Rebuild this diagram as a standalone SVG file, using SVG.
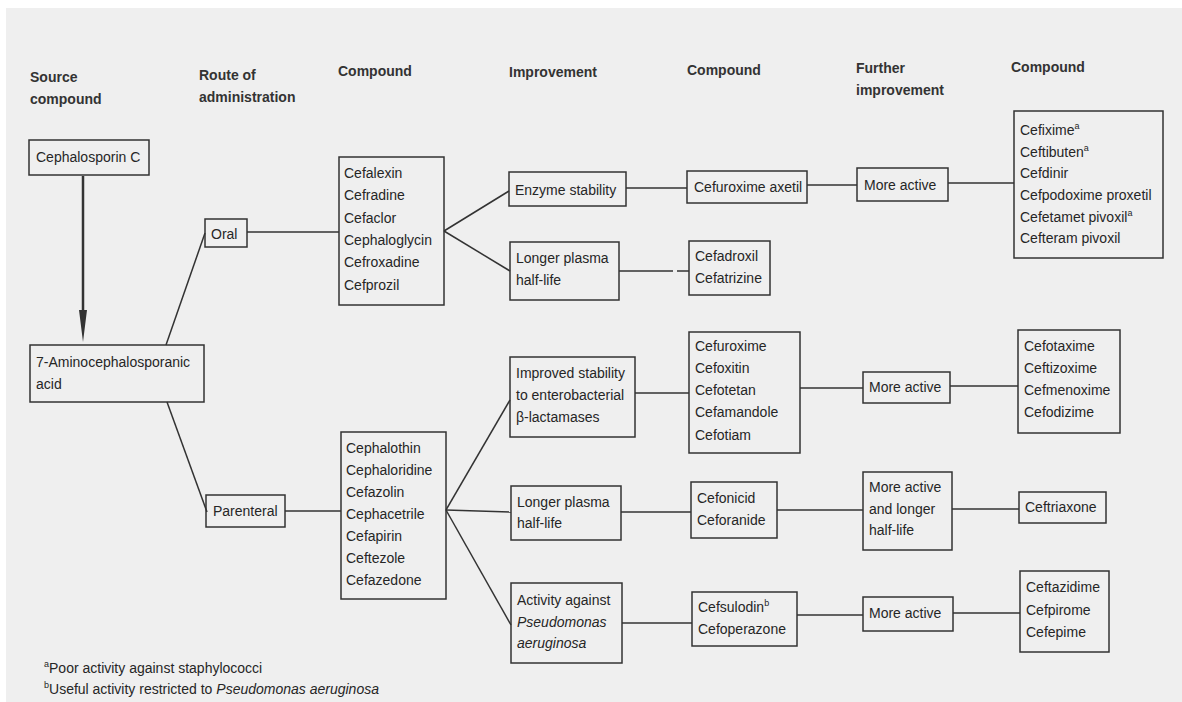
<svg xmlns="http://www.w3.org/2000/svg" width="1182" height="702" viewBox="0 0 1182 702">
<defs>
<style>
text{font-family:"Liberation Sans",Arial,sans-serif;font-size:14px;fill:#262626}
.h{font-weight:bold;fill:#333}
.b{fill:none;stroke:#333;stroke-width:1.5}
.c line,.c polyline{stroke:#333;stroke-width:1.5;fill:none}
.c line.thick{stroke-width:2.5}
.i{font-style:italic}
.sup{font-size:9px}
</style>
<marker id="arr" viewBox="0 0 32 8" refX="0" refY="4" markerWidth="32" markerHeight="8" orient="auto" markerUnits="userSpaceOnUse">
<path d="M0,0 L32,4 L0,8 Z" fill="#333"/>
</marker>
</defs>
<rect x="0" y="0" width="1182" height="702" fill="#ffffff"/>
<rect x="6" y="8" width="1176" height="694" fill="#efefef"/>

<g id="headers">
<text class="h" x="30" y="82">Source</text>
<text class="h" x="30" y="104">compound</text>
<text class="h" x="199" y="80">Route of</text>
<text class="h" x="199" y="102">administration</text>
<text class="h" x="338" y="76">Compound</text>
<text class="h" x="509" y="77">Improvement</text>
<text class="h" x="687" y="75">Compound</text>
<text class="h" x="856" y="73">Further</text>
<text class="h" x="856" y="95">improvement</text>
<text class="h" x="1011" y="72">Compound</text>
</g>

<g class="c" id="connectors">
<line class="thick" x1="83" y1="176" x2="83" y2="310" marker-end="url(#arr)"/>
<line x1="166" y1="345" x2="205" y2="233"/>
<line x1="167" y1="402" x2="207" y2="512"/>
<line x1="247" y1="232" x2="339" y2="232"/>
<line x1="285" y1="511" x2="341" y2="511"/>
<line x1="444" y1="231" x2="509" y2="191"/>
<line x1="444" y1="231" x2="510" y2="271"/>
<line x1="626" y1="188" x2="687" y2="188"/>
<line x1="619" y1="271" x2="673" y2="271"/>
<line x1="677" y1="271" x2="689" y2="271"/>
<line x1="807" y1="185" x2="857" y2="185"/>
<line x1="948" y1="183" x2="1014" y2="183"/>
<line x1="446" y1="510" x2="510" y2="400"/>
<line x1="446" y1="510" x2="511" y2="512"/>
<line x1="446" y1="510" x2="511" y2="625"/>
<line x1="635" y1="393" x2="689" y2="393"/>
<line x1="621" y1="512" x2="691" y2="512"/>
<line x1="622" y1="623" x2="692" y2="623"/>
<line x1="800" y1="388" x2="863" y2="388"/>
<line x1="950" y1="386" x2="1018" y2="386"/>
<line x1="777" y1="510" x2="863" y2="510"/>
<line x1="952" y1="509" x2="1019" y2="509"/>
<line x1="797" y1="615" x2="863" y2="615"/>
<line x1="953" y1="613" x2="1020" y2="613"/>
</g>

<g id="n-cephc">
<rect class="b" x="29" y="140" width="120" height="35"/>
<text x="36" y="162">Cephalosporin C</text>
</g>
<g id="n-7aca">
<rect class="b" x="30" y="345" width="174" height="57"/>
<text x="36" y="367">7-Aminocephalosporanic</text>
<text x="36" y="389">acid</text>
</g>
<g id="n-oral">
<rect class="b" x="205" y="219" width="42" height="28"/>
<text x="211" y="239">Oral</text>
</g>
<g id="n-parenteral">
<rect class="b" x="206" y="495" width="79" height="32"/>
<text x="213" y="516">Parenteral</text>
</g>
<g id="n-oralcomp">
<rect class="b" x="339" y="157" width="105" height="148"/>
<text x="344" y="178">Cefalexin</text>
<text x="344" y="200">Cefradine</text>
<text x="344" y="223">Cefaclor</text>
<text x="344" y="245">Cephaloglycin</text>
<text x="344" y="267">Cefroxadine</text>
<text x="344" y="290">Cefprozil</text>
</g>
<g id="n-parcomp">
<rect class="b" x="341" y="432" width="105" height="167"/>
<text x="346" y="453">Cephalothin</text>
<text x="346" y="475">Cephaloridine</text>
<text x="346" y="497">Cefazolin</text>
<text x="346" y="519">Cephacetrile</text>
<text x="346" y="541">Cefapirin</text>
<text x="346" y="563">Ceftezole</text>
<text x="346" y="585">Cefazedone</text>
</g>
<g id="n-enzyme">
<rect class="b" x="509" y="172" width="117" height="34"/>
<text x="515" y="195">Enzyme stability</text>
</g>
<g id="n-longer1">
<rect class="b" x="510" y="242" width="109" height="58"/>
<text x="516" y="263">Longer plasma</text>
<text x="516" y="285">half-life</text>
</g>
<g id="n-improved">
<rect class="b" x="510" y="357" width="125" height="80"/>
<text x="516" y="378">Improved stability</text>
<text x="516" y="400">to enterobacterial</text>
<text x="516" y="422">β-lactamases</text>
</g>
<g id="n-longer2">
<rect class="b" x="511" y="486" width="110" height="54"/>
<text x="517" y="507">Longer plasma</text>
<text x="517" y="528">half-life</text>
</g>
<g id="n-activity">
<rect class="b" x="511" y="583" width="111" height="80"/>
<text x="517" y="605">Activity against</text>
<text class="i" x="517" y="627">Pseudomonas</text>
<text class="i" x="517" y="648">aeruginosa</text>
</g>
<g id="n-cefaxetil">
<rect class="b" x="687" y="171" width="120" height="32"/>
<text x="694" y="192">Cefuroxime axetil</text>
</g>
<g id="n-cefadroxil">
<rect class="b" x="689" y="241" width="81" height="54"/>
<text x="695" y="261">Cefadroxil</text>
<text x="695" y="283">Cefatrizine</text>
</g>
<g id="n-cefuroxime">
<rect class="b" x="689" y="332" width="111" height="121"/>
<text x="695" y="351">Cefuroxime</text>
<text x="695" y="373">Cefoxitin</text>
<text x="695" y="395">Cefotetan</text>
<text x="695" y="417">Cefamandole</text>
<text x="695" y="440">Cefotiam</text>
</g>
<g id="n-cefonicid">
<rect class="b" x="691" y="482" width="86" height="56"/>
<text x="697" y="503">Cefonicid</text>
<text x="697" y="525">Ceforanide</text>
</g>
<g id="n-cefsulodin">
<rect class="b" x="692" y="592" width="105" height="54"/>
<text x="698" y="612">Cefsulodin<tspan class="sup" dy="-6">b</tspan></text>
<text x="698" y="634">Cefoperazone</text>
</g>
<g id="n-more1">
<rect class="b" x="857" y="168" width="91" height="33"/>
<text x="864" y="190">More active</text>
</g>
<g id="n-more2">
<rect class="b" x="863" y="372" width="87" height="31"/>
<text x="869" y="392">More active</text>
</g>
<g id="n-more3">
<rect class="b" x="863" y="472" width="89" height="78"/>
<text x="869" y="492">More active</text>
<text x="869" y="514">and longer</text>
<text x="869" y="535">half-life</text>
</g>
<g id="n-more4">
<rect class="b" x="863" y="597" width="90" height="34"/>
<text x="869" y="618">More active</text>
</g>
<g id="n-cefixime">
<rect class="b" x="1014" y="111" width="149" height="147"/>
<text x="1020" y="135">Cefixime<tspan class="sup" dy="-6">a</tspan></text>
<text x="1020" y="157">Ceftibuten<tspan class="sup" dy="-6">a</tspan></text>
<text x="1020" y="178">Cefdinir</text>
<text x="1020" y="200">Cefpodoxime proxetil</text>
<text x="1020" y="222">Cefetamet pivoxil<tspan class="sup" dy="-6">a</tspan></text>
<text x="1020" y="243">Cefteram pivoxil</text>
</g>
<g id="n-cefotaxime">
<rect class="b" x="1018" y="330" width="102" height="103"/>
<text x="1024" y="351">Cefotaxime</text>
<text x="1024" y="373">Ceftizoxime</text>
<text x="1024" y="395">Cefmenoxime</text>
<text x="1024" y="417">Cefodizime</text>
</g>
<g id="n-ceftriaxone">
<rect class="b" x="1019" y="492" width="87" height="31"/>
<text x="1025" y="512">Ceftriaxone</text>
</g>
<g id="n-ceftazidime">
<rect class="b" x="1020" y="571" width="89" height="81"/>
<text x="1026" y="592">Ceftazidime</text>
<text x="1026" y="615">Cefpirome</text>
<text x="1026" y="637">Cefepime</text>
</g>

<g id="footnotes">
<text x="44" y="673"><tspan class="sup" dy="-6">a</tspan><tspan dy="6">Poor activity against staphylococci</tspan></text>
<text x="44" y="694"><tspan class="sup" dy="-6">b</tspan><tspan dy="6">Useful activity restricted to </tspan><tspan class="i">Pseudomonas aeruginosa</tspan></text>
</g>
</svg>
